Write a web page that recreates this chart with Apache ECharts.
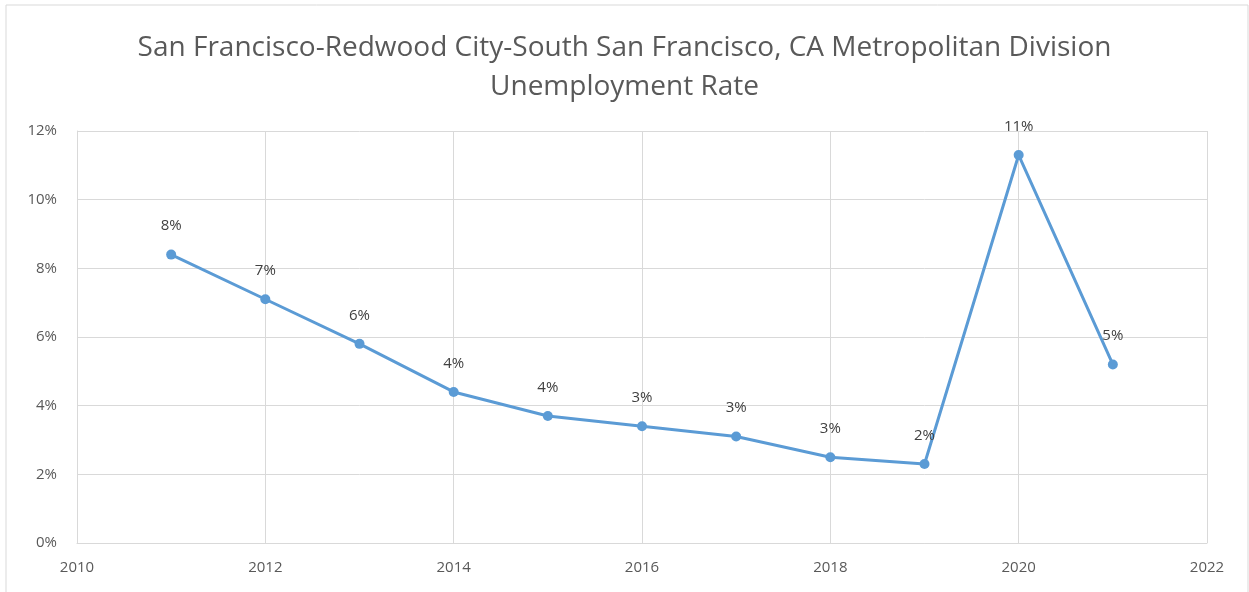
<!DOCTYPE html>
<html>
<head>
<meta charset="utf-8">
<script src="https://cdn.jsdelivr.net/npm/echarts@6/dist/echarts.min.js"></script>
<style>
  html, body { margin: 0; padding: 0; background: #fff; }
  #main { width: 1249px; height: 592px; }
</style>
</head>
<body>
<div id="main"></div>
<script>
const years = [2011, 2012, 2013, 2014, 2015, 2016, 2017, 2018, 2019, 2020, 2021];
const rates = [8.4, 7.1, 5.8, 4.4, 3.7, 3.4, 3.1, 2.5, 2.3, 11.3, 5.2];

const titleText = 'San Francisco-Redwood City-South San Francisco, CA Metropolitan Division\nUnemployment Rate';
const font = '"Open Sans", "Liberation Sans", sans-serif';

const chart = echarts.init(document.getElementById('main'), null, { renderer: 'canvas' });

chart.setOption({
  backgroundColor: '#fff',
  animation: false,
  title: {
    text: titleText,
    left: 'center',
    top: 24,
    textStyle: {
      color: '#595959',
      fontSize: 28,
      fontWeight: 'normal',
      fontFamily: font,
      lineHeight: 39
    }
  },
  graphic: [{
    type: 'rect',
    shape: { x: 6, y: 5, width: 1242, height: 590 },
    style: { fill: 'none', stroke: '#d9d9d9', lineWidth: 1 },
    silent: true
  }],
  grid: { left: 77, right: 42, top: 131, bottom: 49 },
  xAxis: {
    type: 'value',
    min: 2010,
    max: 2022,
    interval: 2,
    axisLine: { show: true, lineStyle: { color: '#d9d9d9' } },
    axisTick: { show: false },
    splitLine: { show: true, lineStyle: { color: '#d9d9d9', width: 1 } },
    axisLabel: {
      color: '#595959', fontSize: 15, fontFamily: font, margin: 17,
      formatter: v => String(v)
    }
  },
  yAxis: {
    type: 'value',
    min: 0,
    max: 12,
    interval: 2,
    axisLine: { show: true, lineStyle: { color: '#d9d9d9' } },
    axisTick: { show: false },
    splitLine: { show: true, lineStyle: { color: '#d9d9d9', width: 1 } },
    axisLabel: {
      color: '#595959', fontSize: 15, fontFamily: font, margin: 20,
      formatter: v => v + '%'
    }
  },
  series: [{
    type: 'line',
    data: years.map((y, i) => [y, rates[i]]),
    symbol: 'circle',
    symbolSize: 10,
    lineStyle: { color: '#5b9bd5', width: 3 },
    itemStyle: { color: '#5b9bd5' },
    label: {
      show: true,
      position: 'top',
      distance: 16,
      color: '#404040',
      fontSize: 15,
      fontFamily: font,
      formatter: p => Math.round(p.value[1]) + '%'
    }
  }]
});
</script>
</body>
</html>
